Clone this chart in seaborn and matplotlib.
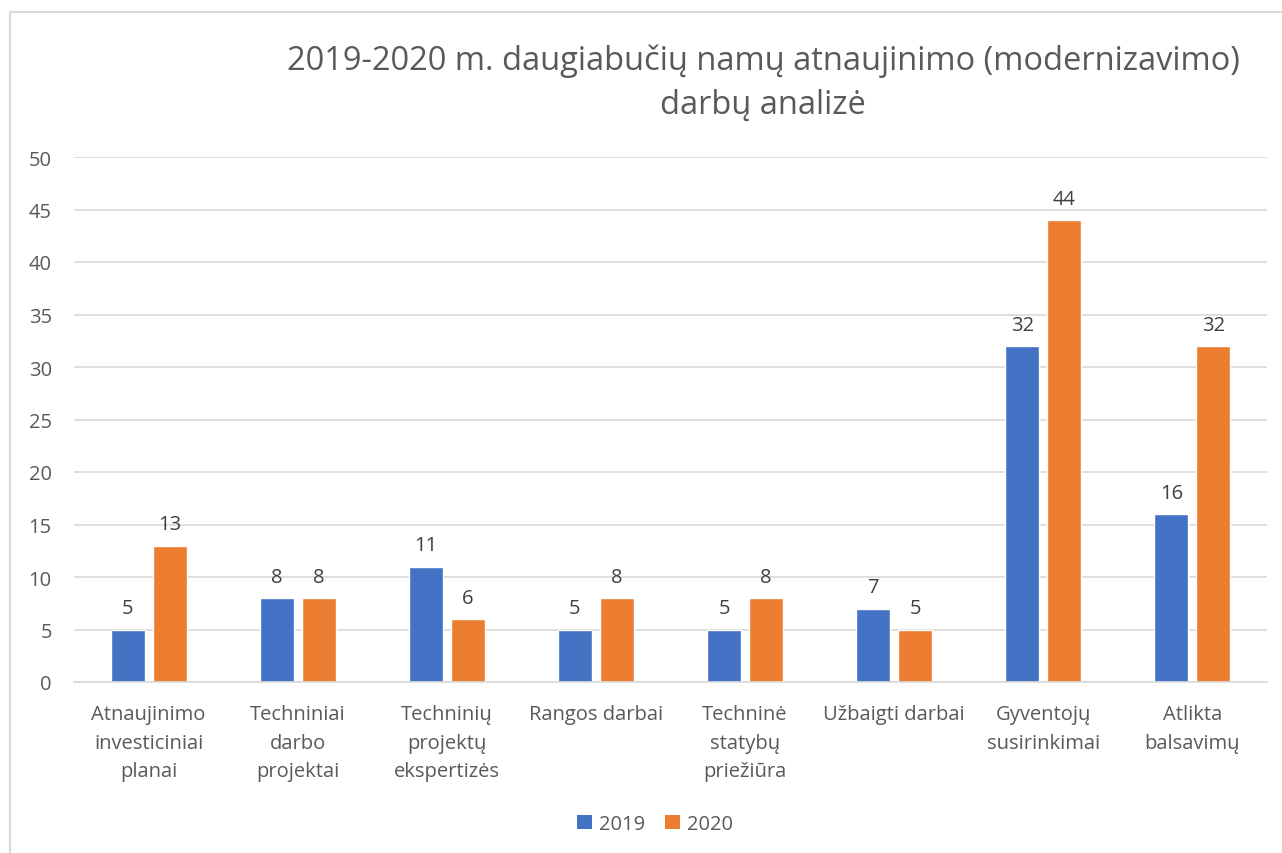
import matplotlib
matplotlib.use("Agg")
import matplotlib.pyplot as plt
import seaborn as sns
import pandas as pd
from matplotlib.lines import Line2D
from matplotlib.patches import Patch

categories = ["Atnaujinimo\ninvesticiniai\nplanai", "Techniniai\ndarbo\nprojektai",
              "Techninių\nprojektų\nekspertizės", "Rangos darbai",
              "Techninė\nstatybų\npriežiūra", "Užbaigti darbai",
              "Gyventojų\nsusirinkimai", "Atlikta\nbalsavimų"]
values_2019 = [5, 8, 11, 5, 5, 7, 32, 16]
values_2020 = [13, 8, 6, 8, 8, 5, 44, 32]
series = ["2019", "2020"]
colors = ["#4472C4", "#ED7D31"]
title = "2019-2020 m. daugiabučių namų atnaujinimo (modernizavimo)\ndarbų analizė"

sns.set_theme(style="white")
plt.rcParams['font.family'] = ['Open Sans', 'DejaVu Sans']

df = pd.DataFrame({
    "cat": categories * 2,
    "val": values_2019 + values_2020,
    "year": [series[0]] * len(categories) + [series[1]] * len(categories),
})

fig = plt.figure(figsize=(12.82, 8.54), dpi=100)
ax = fig.add_axes([74/1282, 1 - 683/854, (1267-74)/1282, (683-158)/854])

sns.barplot(data=df, x="cat", y="val", hue="year", palette=colors,
            width=0.564, gap=0.19, ax=ax, legend=False, saturation=1)

ax.set_ylim(0, 50)
ax.set_yticks(range(0, 51, 5))
ax.grid(axis="y", color="#D9D9D9", linewidth=1.2)
ax.set_axisbelow(True)
for s in ["top", "right", "left"]:
    ax.spines[s].set_visible(False)
ax.spines["bottom"].set_color("#D9D9D9")
ax.spines["bottom"].set_linewidth(1.2)
ax.set_xlabel("")
ax.set_ylabel("")
ax.tick_params(axis="y", length=0, pad=16, labelsize=14.5, labelcolor="#595959")
ax.tick_params(axis="x", length=0, pad=16, labelsize=14.5, labelcolor="#595959")
ax.set_xticks(range(len(categories)))
ax.set_xticklabels(categories, linespacing=1.57)

for cont in ax.containers:
    ax.bar_label(cont, padding=8, fontsize=14.5, color="#404040")

fig.text(763/1282, 1 - 83/854, title, ha="center", va="center",
         fontsize=23.5, color="#595959", linespacing=1.45)

handles = [Patch(facecolor=c, edgecolor="none") for c in colors]
fig.legend(handles, series, loc="center", bbox_to_anchor=(655/1282, 1 - 825/854),
           ncol=2, frameon=False, fontsize=14.5, handlelength=0.75, handleheight=0.75,
           columnspacing=1.0, handletextpad=0.35, labelcolor="#595959")

fig.add_artist(Line2D([10/1282, 10/1282], [0, 1 - 13/854], transform=fig.transFigure,
                      color="#D9D9D9", linewidth=1.5))
fig.add_artist(Line2D([10/1282, 1], [1 - 13/854, 1 - 13/854], transform=fig.transFigure,
                      color="#D9D9D9", linewidth=1.5))

fig.savefig("out.png", dpi=100, facecolor="white")
